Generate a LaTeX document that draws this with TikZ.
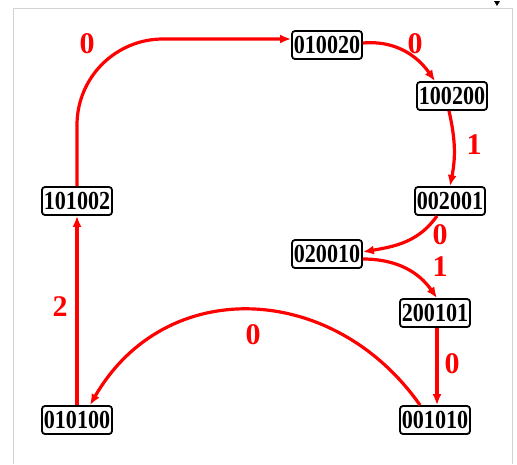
\documentclass[tikz,border=0pt]{standalone}
\usepackage{fontspec}
\setmainfont{Liberation Serif}
\newfontfamily\statefont[FakeStretch=0.85]{Liberation Serif}
\usetikzlibrary{arrows.meta}

\tikzset{
  state/.style={draw=black, line width=1.8pt, rounded corners=3pt, fill=white,
    minimum width=70pt, minimum height=28pt, inner sep=1pt,
    font=\statefont\fontsize{26}{26}\selectfont\bfseries},
  trans/.style={draw=red, line width=3.2pt, -{Latex[length=11pt,width=9pt]}},
  lbl/.style={text=red, inner sep=0pt, font=\fontsize{30}{30}\selectfont\bfseries}
}

\begin{document}
\begin{tikzpicture}[x=1pt, y=-1pt]
  \useasboundingbox (0,0) rectangle (517,464);
  % screenshot frame
  \draw[gray!35, line width=1pt] (13,464) -- (13,8) -- (512,8) -- (512,464);
  \fill (494,1) -- (500,1) -- (497,6) -- cycle;

  % states
  \node[state] (s010020) at (327,45)  {010020};
  \node[state] (s100200) at (452,96)  {100200};
  \node[state] (s002001) at (450,201) {002001};
  \node[state] (s020010) at (327,254) {020010};
  \node[state] (s200101) at (435,313) {200101};
  \node[state] (s001010) at (435,420) {001010};
  \node[state] (s101002) at (77,201)  {101002};
  \node[state] (s010100) at (77,420)  {010100};

  % transitions
  \draw[trans, rounded corners=86pt] (s101002.north) |- ([yshift=6pt]s010020.west);
  \draw[trans] ([yshift=2pt]s010020.east) to[out=5, in=125] ([xshift=-17pt]s100200.north);
  \draw[trans] ([xshift=-3pt]s100200.south) to[bend left=12] (s002001.north);
  \draw[trans] ([xshift=-13pt]s002001.south) to[out=-125, in=10] ([yshift=2pt]s020010.east);
  \draw[trans] ([yshift=-5pt]s020010.east) to[out=0, in=125] ([xshift=2pt]s200101.north);
  \draw[trans] ([xshift=2pt]s200101.south) -- ([xshift=2pt]s001010.north);
  \draw[trans] ([xshift=-15pt]s001010.north) to[out=125, in=60, looseness=1.17] ([xshift=13pt]s010100.north);
  \draw[trans] (s010100) -- (s101002);

  % labels
  \node[lbl] (l1) at (87,44)  {0};
  \node[lbl] (l2) at (415,44) {0};
  \node[lbl] (l3) at (474,145) {1};
  \node[lbl] (l4) at (440,235) {0};
  \node[lbl] (l5) at (440,267) {1};
  \node[lbl] (l6) at (452,364) {0};
  \node[lbl] (l7) at (253,335) {0};
  \node[lbl] (l8) at (60,307) {2};
\end{tikzpicture}
\end{document}
